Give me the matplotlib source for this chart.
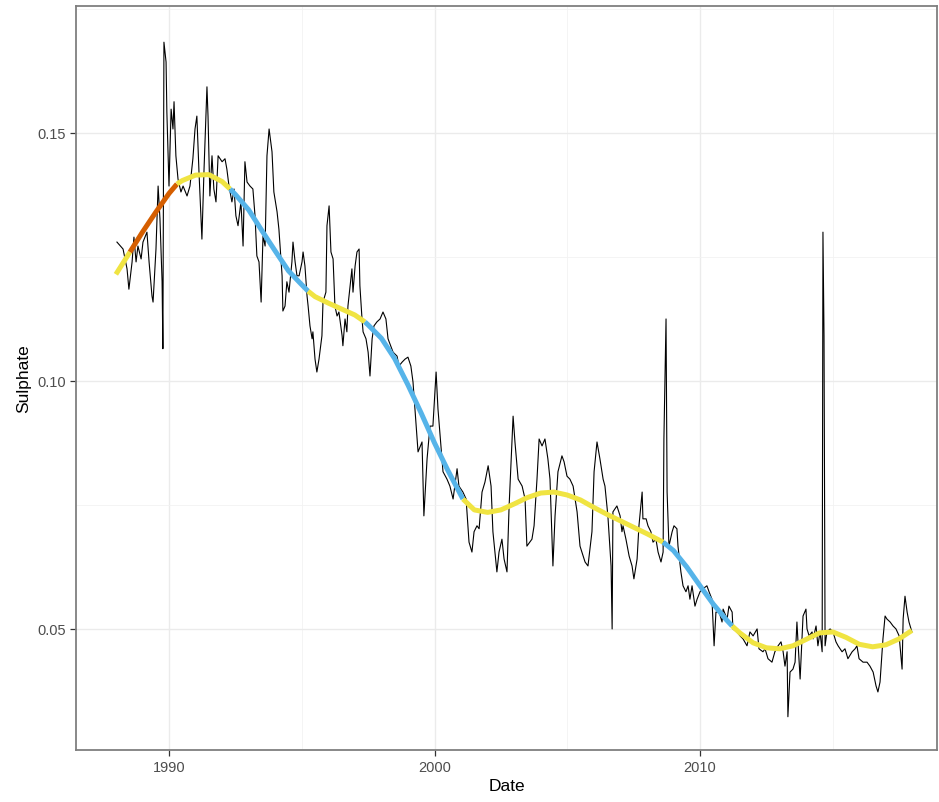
import matplotlib
matplotlib.use("Agg")
import matplotlib.pyplot as plt
import numpy as np

plt.rcParams["font.family"] = ["Liberation Sans", "DejaVu Sans"]

# monthly sulphate series (decimal year, value)
years = [
    1988.04, 1988.27, 1988.42, 1988.49, 1988.61, 1988.68, 1988.76, 1988.83, 1988.95, 1989.02,
    1989.17, 1989.25, 1989.36, 1989.40, 1989.51, 1989.59, 1989.66, 1989.74, 1989.77, 1989.81,
    1989.89, 1989.92, 1990.00, 1990.08, 1990.15, 1990.19, 1990.26, 1990.34, 1990.45, 1990.53,
    1990.68, 1990.79, 1990.90, 1990.98, 1991.05, 1991.13, 1991.24, 1991.32, 1991.43, 1991.47,
    1991.54, 1991.62, 1991.69, 1991.77, 1991.85, 1992.00, 1992.11, 1992.18, 1992.26, 1992.37,
    1992.45, 1992.52, 1992.60, 1992.71, 1992.79, 1992.86, 1992.94, 1993.05, 1993.16, 1993.24,
    1993.31, 1993.39, 1993.47, 1993.54, 1993.62, 1993.69, 1993.77, 1993.88, 1993.95, 1994.07,
    1994.14, 1994.26, 1994.29, 1994.37, 1994.44, 1994.52, 1994.63, 1994.67, 1994.75, 1994.82,
    1994.90, 1995.01, 1995.05, 1995.12, 1995.20, 1995.24, 1995.31, 1995.39, 1995.42, 1995.50,
    1995.57, 1995.65, 1995.76, 1995.80, 1995.91, 1995.95, 1996.03, 1996.10, 1996.18, 1996.25,
    1996.33, 1996.40, 1996.52, 1996.55, 1996.63, 1996.70, 1996.74, 1996.82, 1996.89, 1996.93,
    1997.01, 1997.08, 1997.16, 1997.19, 1997.27, 1997.31, 1997.42, 1997.50, 1997.57, 1997.65,
    1997.72, 1997.83, 1997.95, 1998.06, 1998.17, 1998.25, 1998.44, 1998.59, 1998.66, 1998.78,
    1998.89, 1999.00, 1999.11, 1999.19, 1999.27, 1999.38, 1999.53, 1999.60, 1999.72, 1999.83,
    1999.94, 2000.06, 2000.13, 2000.24, 2000.32, 2000.47, 2000.58, 2000.70, 2000.85, 2000.92,
    2001.07, 2001.19, 2001.30, 2001.41, 2001.49, 2001.60, 2001.68, 2001.79, 2001.90, 2002.02,
    2002.13, 2002.20, 2002.35, 2002.43, 2002.54, 2002.62, 2002.73, 2002.81, 2002.92, 2002.96,
    2003.03, 2003.15, 2003.30, 2003.41, 2003.48, 2003.67, 2003.75, 2003.86, 2003.94, 2004.05,
    2004.16, 2004.27, 2004.35, 2004.46, 2004.54, 2004.65, 2004.80, 2004.88, 2004.99, 2005.10,
    2005.22, 2005.37, 2005.48, 2005.67, 2005.78, 2005.93, 2006.01, 2006.12, 2006.23, 2006.35,
    2006.42, 2006.53, 2006.65, 2006.69, 2006.72, 2006.87, 2006.99, 2007.06, 2007.10, 2007.21,
    2007.33, 2007.44, 2007.51, 2007.63, 2007.70, 2007.82, 2007.85, 2007.97, 2008.04, 2008.15,
    2008.23, 2008.34, 2008.42, 2008.53, 2008.61, 2008.64, 2008.68, 2008.72, 2008.76, 2008.83,
    2008.95, 2009.02, 2009.13, 2009.17, 2009.28, 2009.36, 2009.47, 2009.55, 2009.62, 2009.70,
    2009.81, 2009.89, 2010.00, 2010.11, 2010.26, 2010.34, 2010.45, 2010.53, 2010.60, 2010.72,
    2010.83, 2010.87, 2011.02, 2011.09, 2011.21, 2011.24, 2011.39, 2011.51, 2011.62, 2011.77,
    2011.88, 2012.00, 2012.15, 2012.22, 2012.37, 2012.45, 2012.56, 2012.71, 2012.82, 2012.94,
    2013.05, 2013.13, 2013.20, 2013.28, 2013.31, 2013.39, 2013.50, 2013.58, 2013.65, 2013.69,
    2013.77, 2013.84, 2013.88, 2013.99, 2014.03, 2014.11, 2014.22, 2014.26, 2014.37, 2014.44,
    2014.52, 2014.60, 2014.63, 2014.67, 2014.71, 2014.78, 2014.90, 2015.01, 2015.12, 2015.20,
    2015.35, 2015.46, 2015.57, 2015.73, 2015.84, 2015.91, 2015.99, 2016.14, 2016.29, 2016.40,
    2016.52, 2016.63, 2016.70, 2016.78, 2016.89, 2016.97, 2017.04, 2017.16, 2017.27, 2017.38,
    2017.50, 2017.61, 2017.65, 2017.72, 2017.80, 2017.87, 2017.98,
]
sulphate = [
    0.1280, 0.1266, 0.1226, 0.1185, 0.1240, 0.1290, 0.1240, 0.1272, 0.1246, 0.1280,
    0.1300, 0.1240, 0.1171, 0.1159, 0.1266, 0.1393, 0.1327, 0.1200, 0.1065, 0.1683,
    0.1643, 0.1542, 0.1393, 0.1548, 0.1508, 0.1563, 0.1454, 0.1407, 0.1381, 0.1393,
    0.1373, 0.1393, 0.1448, 0.1508, 0.1534, 0.1421, 0.1286, 0.1427, 0.1593, 0.1534,
    0.1373, 0.1454, 0.1387, 0.1361, 0.1454, 0.1442, 0.1448, 0.1427, 0.1393, 0.1361,
    0.1387, 0.1333, 0.1313, 0.1361, 0.1272, 0.1442, 0.1401, 0.1393, 0.1387, 0.1333,
    0.1252, 0.1240, 0.1159, 0.1292, 0.1272, 0.1454, 0.1508, 0.1462, 0.1381, 0.1341,
    0.1306, 0.1212, 0.1141, 0.1151, 0.1200, 0.1179, 0.1240, 0.1280, 0.1240, 0.1212,
    0.1212, 0.1240, 0.1260, 0.1232, 0.1171, 0.1151, 0.1111, 0.1085, 0.1099, 0.1044,
    0.1018, 0.1044, 0.1091, 0.1159, 0.1179, 0.1313, 0.1353, 0.1260, 0.1246, 0.1151,
    0.1131, 0.1139, 0.1091, 0.1071, 0.1125, 0.1099, 0.1151, 0.1192, 0.1226, 0.1179,
    0.1232, 0.1260, 0.1266, 0.1192, 0.1125, 0.1099, 0.1085, 0.1058, 0.1010, 0.1085,
    0.1111, 0.1119, 0.1125, 0.1139, 0.1125, 0.1085, 0.1058, 0.1050, 0.1030, 0.1038,
    0.1044, 0.1048, 0.1030, 0.0998, 0.0938, 0.0857, 0.0877, 0.0728, 0.0843, 0.0909,
    0.0909, 0.1018, 0.0944, 0.0869, 0.0817, 0.0802, 0.0788, 0.0762, 0.0823, 0.0788,
    0.0776, 0.0762, 0.0675, 0.0655, 0.0696, 0.0708, 0.0702, 0.0776, 0.0796, 0.0829,
    0.0788, 0.0696, 0.0615, 0.0655, 0.0681, 0.0641, 0.0615, 0.0748, 0.0883, 0.0929,
    0.0877, 0.0802, 0.0788, 0.0762, 0.0667, 0.0681, 0.0708, 0.0802, 0.0883, 0.0869,
    0.0883, 0.0843, 0.0802, 0.0627, 0.0728, 0.0817, 0.0849, 0.0837, 0.0808, 0.0802,
    0.0788, 0.0736, 0.0667, 0.0635, 0.0627, 0.0696, 0.0817, 0.0877, 0.0843, 0.0802,
    0.0788, 0.0728, 0.0627, 0.0500, 0.0736, 0.0748, 0.0728, 0.0696, 0.0708, 0.0681,
    0.0647, 0.0627, 0.0601, 0.0641, 0.0708, 0.0776, 0.0722, 0.0722, 0.0708, 0.0696,
    0.0675, 0.0681, 0.0655, 0.0635, 0.0655, 0.0883, 0.1010, 0.1125, 0.0776, 0.0667,
    0.0696, 0.0708, 0.0702, 0.0667, 0.0615, 0.0587, 0.0575, 0.0587, 0.0560, 0.0587,
    0.0546, 0.0560, 0.0575, 0.0581, 0.0587, 0.0575, 0.0560, 0.0466, 0.0534, 0.0534,
    0.0514, 0.0540, 0.0520, 0.0546, 0.0534, 0.0500, 0.0494, 0.0486, 0.0480, 0.0466,
    0.0494, 0.0486, 0.0500, 0.0460, 0.0454, 0.0460, 0.0440, 0.0433, 0.0454, 0.0466,
    0.0474, 0.0454, 0.0425, 0.0454, 0.0323, 0.0413, 0.0419, 0.0433, 0.0514, 0.0474,
    0.0399, 0.0480, 0.0526, 0.0540, 0.0500, 0.0486, 0.0494, 0.0480, 0.0506, 0.0466,
    0.0494, 0.0454, 0.1300, 0.1091, 0.0466, 0.0494, 0.0500, 0.0494, 0.0474, 0.0466,
    0.0454, 0.0460, 0.0440, 0.0454, 0.0460, 0.0466, 0.0440, 0.0433, 0.0433, 0.0425,
    0.0413, 0.0385, 0.0373, 0.0393, 0.0480, 0.0526, 0.0520, 0.0514, 0.0506, 0.0500,
    0.0486, 0.0419, 0.0520, 0.0566, 0.0534, 0.0514, 0.0494,
]

# fitted smooth trend
trend_years = [
    1988.0, 1988.53, 1989.0, 1989.5, 1990.0, 1990.3, 1990.5, 1991.0, 1991.5, 1992.0,
    1992.3, 1992.5, 1993.0, 1993.5, 1994.0, 1994.5, 1995.0, 1995.24, 1995.5, 1996.0,
    1996.5, 1997.0, 1997.38, 1997.5, 1998.0, 1998.5, 1999.0, 1999.5, 2000.0, 2000.5,
    2001.07, 2001.5, 2002.0, 2002.5, 2003.0, 2003.5, 2004.0, 2004.5, 2005.0, 2005.5,
    2006.0, 2006.5, 2007.0, 2007.5, 2008.0, 2008.61, 2009.0, 2009.5, 2010.0, 2010.5,
    2011.0, 2011.21, 2011.5, 2012.0, 2012.5, 2013.0, 2013.5, 2014.0, 2014.5, 2015.0,
    2015.5, 2016.0, 2016.5, 2017.0, 2017.5, 2017.98,
]
trend = [
    0.1215, 0.1260, 0.1300, 0.1340, 0.1378, 0.1397, 0.1404, 0.1415, 0.1416, 0.1402,
    0.1387, 0.1376, 0.1345, 0.1303, 0.1262, 0.1222, 0.1194, 0.1181, 0.1170, 0.1157,
    0.1145, 0.1133, 0.1119, 0.1113, 0.1086, 0.1045, 0.0992, 0.0935, 0.0875, 0.0820,
    0.0762, 0.0740, 0.0735, 0.0740, 0.0752, 0.0765, 0.0774, 0.0776, 0.0770, 0.0760,
    0.0745, 0.0731, 0.0718, 0.0705, 0.0692, 0.0675, 0.0658, 0.0625, 0.0587, 0.0550,
    0.0518, 0.0506, 0.0492, 0.0472, 0.0462, 0.0460, 0.0466, 0.0479, 0.0492, 0.0494,
    0.0483, 0.0469, 0.0464, 0.0468, 0.0480, 0.0497,
]

# trend segments: increasing / decreasing / no significant change
seg_start = [1988.0, 1988.53, 1990.3, 1992.3, 1995.24, 1997.38, 2001.07, 2008.61, 2011.21]
seg_end = [1988.53, 1990.3, 1992.3, 1995.24, 1997.38, 2001.07, 2008.61, 2011.21, 2017.98]
seg_kind = ["flat", "up", "flat", "down", "flat", "down", "flat", "down", "flat"]
kind_colors = {"flat": "#F0E442", "up": "#D55E00", "down": "#56B4E9"}


def main() -> None:
    fig = plt.figure(figsize=(9.39, 8.03), dpi=100)
    ax = fig.add_axes([0.081, 0.0648, 0.917, 0.9265])

    ax.plot(years, sulphate, color="black", lw=0.8, zorder=3)

    tx = np.array(trend_years)
    ty = np.array(trend)
    for start, end, kind in zip(seg_start, seg_end, seg_kind):
        mask = (tx >= start - 1e-9) & (tx <= end + 1e-9)
        ax.plot(tx[mask], ty[mask], color=kind_colors[kind], lw=3.6,
                solid_capstyle="butt", zorder=4)

    ax.set_xlim(1986.5, 2018.93)
    ax.set_ylim(0.0256, 0.1756)
    ax.set_xticks([1990, 2000, 2010])
    ax.set_xticks([1995, 2005, 2015], minor=True)
    ax.set_yticks([0.05, 0.10, 0.15])
    ax.set_yticks([0.075, 0.125, 0.175], minor=True)
    ax.set_yticklabels(["0.05", "0.10", "0.15"])

    ax.grid(which="major", color="#EBEBEB", lw=1.0, zorder=0)
    ax.grid(which="minor", color="#F2F2F2", lw=0.6, zorder=0)
    ax.set_axisbelow(True)

    for spine in ax.spines.values():
        spine.set_color("#7F7F7F")
        spine.set_linewidth(1.3)

    ax.tick_params(which="major", length=4, width=0.9, color="#333333",
                   labelcolor="#4D4D4D", labelsize=10.5, pad=3)
    ax.tick_params(which="minor", length=0)

    ax.set_xlabel("Date", fontsize=12.5, labelpad=3)
    ax.set_ylabel("Sulphate", fontsize=12.5, labelpad=5)

    fig.savefig("out.png", dpi=100)


if __name__ == "__main__":
    main()
